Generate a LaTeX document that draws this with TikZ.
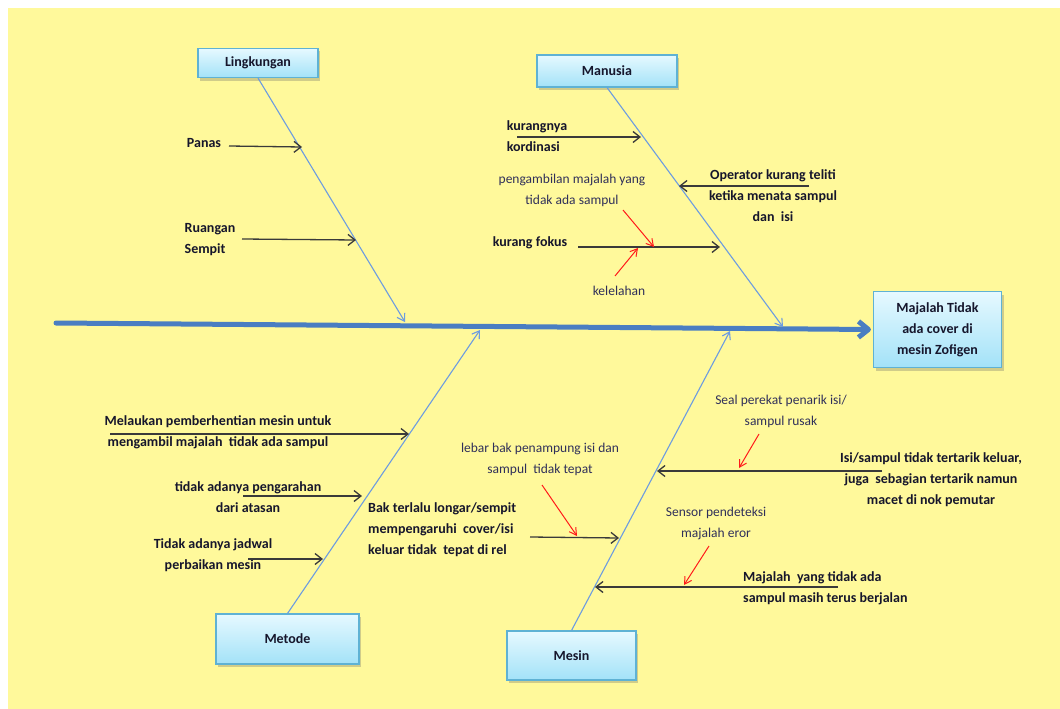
\documentclass[tikz,border=0pt]{standalone}
\usepackage{fontspec}
\setmainfont{Carlito}
\usetikzlibrary{arrows.meta,shadows}

\definecolor{bgyellow}{HTML}{FFF99B}
\definecolor{spineblue}{HTML}{4A7EC2}
\definecolor{boneblue}{HTML}{6D9CE0}
\definecolor{boxtop}{HTML}{E6F9FF}
\definecolor{boxbot}{HTML}{A3E2F8}
\definecolor{boxedge}{HTML}{5FB2D4}
\definecolor{inktext}{HTML}{16162C}
\definecolor{notetext}{HTML}{30305A}
\definecolor{causegray}{HTML}{3A3A3A}
\definecolor{notered}{HTML}{FF1A1A}

\begin{document}
\begin{tikzpicture}[x=1pt,y=-1pt,
  catbox/.style={draw=boxedge, line width=1.1pt, top color=boxtop, bottom color=boxbot,
    text=inktext, font=\bfseries\fontsize{14}{21}\selectfont, align=center,
    inner sep=0pt,
    drop shadow={shadow xshift=2pt, shadow yshift=-3pt, opacity=0.3, fill=black!60}},
  bold/.style={text=inktext, font=\bfseries\fontsize{14}{21}\selectfont, inner sep=0pt},
  note/.style={text=notetext, font=\fontsize{13.5}{21}\selectfont, inner sep=0pt, align=center},
  bone/.style={draw=boneblue, line width=1.1pt, -{Straight Barb[length=7pt,width=9pt]}},
  spine/.style={draw=spineblue, line width=5pt, line cap=round,
    -{Straight Barb[length=10pt,width=16pt,line join=round]}},
  cause/.style={draw=causegray, line width=1.3pt, -{Straight Barb[length=7pt,width=11pt]}},
  hint/.style={draw=notered, line width=1pt, -{Straight Barb[length=7pt,width=8pt]}}
]
% canvas
\fill[bgyellow] (8,8) rectangle (1060,709);
\useasboundingbox (0,0) rectangle (1060,709);

% category boxes and effect
\node[catbox, minimum width=120pt, minimum height=29pt] (ling) at (258,63) {Lingkungan};
\node[catbox, minimum width=140pt, minimum height=32pt] (manu) at (607,71) {Manusia};
\node[catbox, minimum width=143pt, minimum height=50pt] (meto) at (287.5,639) {Metode};
\node[catbox, minimum width=129pt, minimum height=49pt] (mesi) at (571.5,655.5) {Mesin};
\node[catbox, minimum width=128pt, minimum height=76pt] (effect) at (937.5,329.5)
  {Majalah Tidak\\ada cover di\\mesin Zofigen};

% spine
\coordinate (tail) at (56,323);
\draw[spine] (tail) -- ([xshift=-2pt]effect.west);

% main bones
\coordinate (lingTip) at (405,322);
\coordinate (manuTip) at (783,327);
\coordinate (metoTip) at (480,330);
\coordinate (mesiTip) at (730,331);
\draw[bone] (ling.south) -- (lingTip);
\draw[bone] (manu.south) -- (manuTip);
\draw[bone] (meto.north) -- (metoTip);
\draw[bone] (mesi.north) -- (mesiTip);

% Lingkungan causes
\node[bold] (panas) at (204,143) {Panas};
\coordinate (panasA) at (229,146); \coordinate (panasB) at (302,147);
\draw[cause] (panasA) -- (panasB);
\node[bold, align=left] (ruang) at (210,240) {Ruangan\\Sempit};
\coordinate (ruangA) at (242,239); \coordinate (ruangB) at (356,240);
\draw[cause] (ruangA) -- (ruangB);

% Manusia causes
\node[bold, align=left] (kord) at (537,136) {kurangnya\\kordinasi};
\coordinate (kordA) at (517,137); \coordinate (kordB) at (641,137);
\draw[cause] (kordA) -- (kordB);
\node[bold, align=center] (oper) at (773,196) {Operator kurang teliti\\ketika menata sampul\\dan\ \ isi};
\coordinate (operA) at (809,186); \coordinate (operB) at (679,186);
\draw[cause] (operA) -- (operB);
\node[bold] (fokus) at (530,243) {kurang fokus};
\coordinate (fokusA) at (578,247); \coordinate (fokusB) at (720,247);
\draw[cause] (fokusA) -- (fokusB);
\node[note] (ambil) at (572,190) {pengambilan majalah yang\\tidak ada sampul};
\coordinate (ambilA) at (623,210); \coordinate (ambilB) at (654,247);
\draw[hint] (ambilA) -- (ambilB);
\node[note] (lelah) at (619,291) {kelelahan};
\coordinate (lelahA) at (615,276); \coordinate (lelahB) at (638,248);
\draw[hint] (lelahA) -- (lelahB);

% Metode causes
\node[bold, align=center] (henti) at (218,432) {Melaukan pemberhentian mesin untuk\\mengambil majalah\ \ tidak ada sampul};
\coordinate (hentiA) at (110,434); \coordinate (hentiB) at (409,434);
\draw[cause] (hentiA) -- (hentiB);
\node[bold, align=center] (arah) at (248,497) {tidak adanya pengarahan\\dari atasan};
\coordinate (arahA) at (243,496); \coordinate (arahB) at (362,496);
\draw[cause] (arahA) -- (arahB);
\node[bold, align=center] (jadwal) at (213,555) {Tidak adanya jadwal\\perbaikan mesin};
\coordinate (jadwalA) at (248,559); \coordinate (jadwalB) at (323,559);
\draw[cause] (jadwalA) -- (jadwalB);

% Mesin causes
\node[bold, align=left, anchor=west] (bak) at (368,530) {Bak terlalu longar/sempit\\mempengaruhi\ \ cover/isi\\keluar tidak\ \ tepat di rel};
\coordinate (bakA) at (530,537); \coordinate (bakB) at (619,538);
\draw[cause] (bakA) -- (bakB);
\node[note] (lebar) at (540,459) {lebar bak penampung isi dan\\sampul\ \ tidak tepat};
\coordinate (lebarA) at (542,485); \coordinate (lebarB) at (577,536);
\draw[hint] (lebarA) -- (lebarB);
\node[bold, align=center] (tarik) at (931,480) {Isi/sampul tidak tertarik keluar,\\juga\ \ sebagian tertarik namun\\macet di nok pemutar};
\coordinate (tarikA) at (882,471); \coordinate (tarikB) at (657,471);
\draw[cause] (tarikA) -- (tarikB);
\node[note] (seal) at (781,411) {Seal perekat penarik isi/\\sampul rusak};
\coordinate (sealA) at (759,434); \coordinate (sealB) at (739,468);
\draw[hint] (sealA) -- (sealB);
\node[bold, align=left, anchor=west] (jalan) at (743,588) {Majalah\ \ yang tidak ada\\sampul masih terus berjalan};
\coordinate (jalanA) at (838,587); \coordinate (jalanB) at (595,587);
\draw[cause] (jalanA) -- (jalanB);
\node[note] (sensor) at (716,523) {Sensor pendeteksi\\majalah eror};
\coordinate (sensorA) at (709,546); \coordinate (sensorB) at (684,585);
\draw[hint] (sensorA) -- (sensorB);
\end{tikzpicture}
\end{document}
